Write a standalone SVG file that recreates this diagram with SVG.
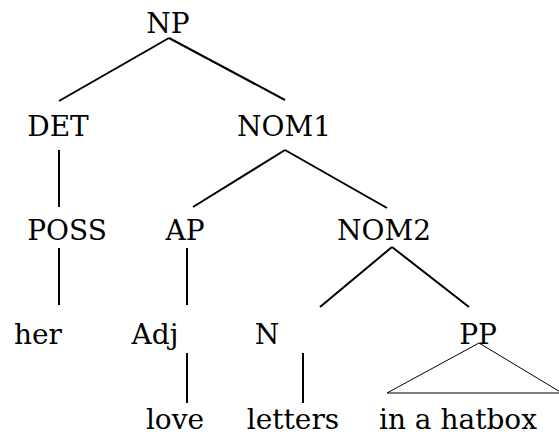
<svg xmlns="http://www.w3.org/2000/svg" width="559" height="436" viewBox="0 0 559 436">
<style>
text{font-family:"DejaVu Serif","Liberation Serif",serif;font-size:28px;fill:#000;text-anchor:middle}
.e{stroke:#000;stroke-width:2;fill:none}
.t{stroke:#000;stroke-width:1;fill:none}
</style>
<rect width="559" height="436" fill="#fff"/>
<g id="connectors">
<line class="e" x1="169" y1="38" x2="59" y2="101"/>
<line class="e" x1="169" y1="38" x2="285" y2="100"/>
<line class="e" x1="59" y1="150" x2="59" y2="207"/>
<line class="e" x1="285" y1="150" x2="193" y2="207"/>
<line class="e" x1="285" y1="150" x2="387" y2="208"/>
<line class="e" x1="59" y1="248" x2="59" y2="305"/>
<line class="e" x1="187" y1="248" x2="187" y2="305"/>
<line class="e" x1="392" y1="247" x2="320" y2="307"/>
<line class="e" x1="392" y1="247" x2="469" y2="307"/>
<line class="e" x1="187" y1="353" x2="187" y2="403"/>
<line class="e" x1="303" y1="353" x2="303" y2="403"/>
<polygon class="t" points="479,343 387,393 562,393"/>
</g>
<g id="n-np"><text x="168" y="33">NP</text></g>
<g id="n-det"><text x="58" y="136">DET</text></g>
<g id="n-nom1"><text x="284" y="136">NOM1</text></g>
<g id="n-poss"><text x="67" y="240">POSS</text></g>
<g id="n-ap"><text x="185" y="240">AP</text></g>
<g id="n-nom2"><text x="384" y="240">NOM2</text></g>
<g id="n-her"><text x="38" y="344">her</text></g>
<g id="n-adj"><text x="155" y="344">Adj</text></g>
<g id="n-n"><text x="267" y="344">N</text></g>
<g id="n-pp"><text x="478" y="344">PP</text></g>
<g id="n-love"><text x="175" y="429">love</text></g>
<g id="n-letters"><text x="293" y="429">letters</text></g>
<g id="n-hatbox"><text x="458" y="429">in a hatbox</text></g>
</svg>
